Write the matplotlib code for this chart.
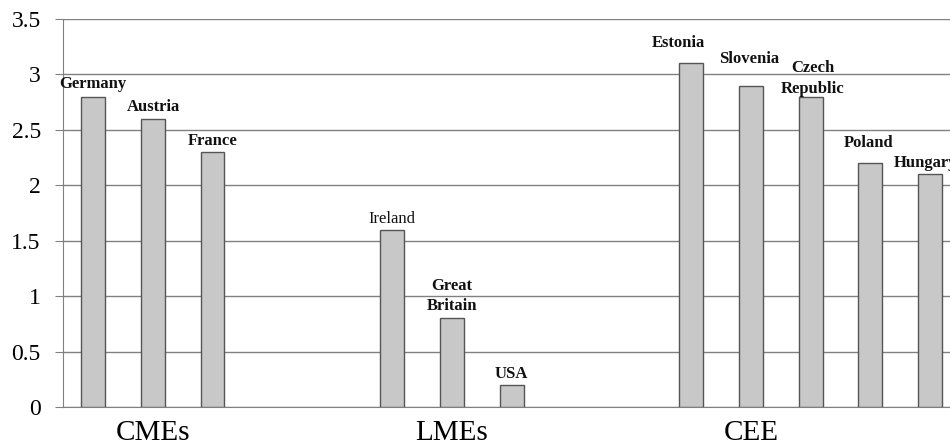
import numpy as np
import matplotlib
matplotlib.use("Agg")
import matplotlib.pyplot as plt

plt.rcParams['font.family'] = ['Liberation Serif', 'DejaVu Serif']

# data
groups = ['CMEs', 'LMEs', 'CEE']
countries = [['Germany', 'Austria', 'France'],
             ['Ireland', 'Great\nBritain', 'USA'],
             ['Estonia', 'Slovenia', 'Czech\nRepublic', 'Poland', 'Hungary']]
values = [[2.8, 2.6, 2.3],
          [1.6, 0.8, 0.2],
          [3.1, 2.9, 2.8, 2.2, 2.1]]

# label placement tweaks (pixels from bar top)
label_offsets = [[(0, 9), (1, 8), (0, 7)],
                 [(0, 7), (0, 8), (0, 7)],
                 [(-13, 16), (-2, 23), (2, 4), (-2, 16), (-5, 7)]]

fig = plt.figure(figsize=(9.5, 4.47), dpi=100)
ax = fig.add_axes([63 / 950, 1 - 407 / 447, 1 - 63 / 950, (407 - 19) / 447])

for g, (names, vals, offs) in enumerate(zip(countries, values, label_offsets)):
    x = g * 5 + np.arange(len(vals))
    ax.bar(x, vals, width=0.4, color='#c8c8c8', edgecolor='#555555',
           linewidth=1, zorder=3)
    for xi, v, name, (dx, dy) in zip(x, vals, names, offs):
        weight = 'normal' if name == 'Ireland' else 'bold'
        ax.annotate(name, xy=(xi, v), xytext=(dx, dy),
                    textcoords='offset pixels', ha='center', va='baseline',
                    fontsize=12, fontweight=weight, color='#111111',
                    linespacing=1.35, zorder=4)
    ax.text(g * 5 + 1, -0.115, groups[g], ha='center', va='top',
            fontsize=21, transform=ax.transData)

ax.set_xlim(-0.5, 14.33)
ax.set_ylim(0, 3.5)
ax.set_yticks(np.arange(0, 3.51, 0.5))
ax.set_yticklabels(['0', '0.5', '1', '1.5', '2', '2.5', '3', '3.5'])
ax.set_xticks([])
ax.tick_params(axis='y', length=6, color='#808080', labelsize=17, pad=10)
ax.yaxis.grid(True, color='#808080', linewidth=1)
ax.set_axisbelow(True)
for s in ['top', 'right']:
    ax.spines[s].set_visible(False)
ax.spines['left'].set_color('#808080')
ax.spines['bottom'].set_color('#808080')

plt.savefig('out.png', dpi=100)
